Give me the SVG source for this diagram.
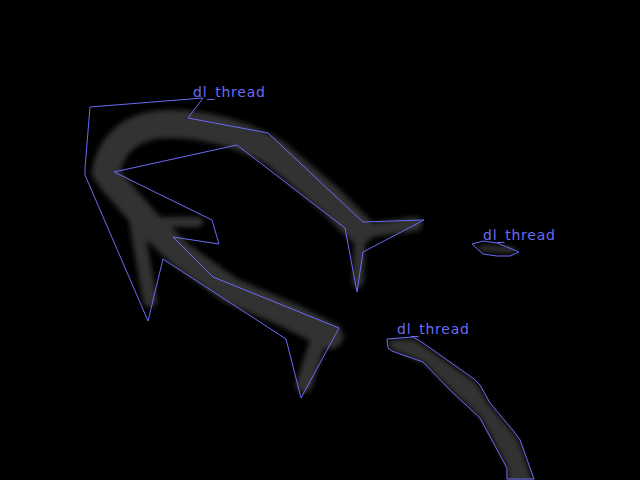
<svg xmlns="http://www.w3.org/2000/svg" width="640" height="480" viewBox="0 0 640 480">
<style>
.outline{fill:none;stroke:#6a6af5;stroke-width:1}
.label{font-family:"DejaVu Sans",sans-serif;font-size:14px;fill:#6a6af5}
.thread{fill:none;stroke:#333;stroke-linecap:round;stroke-linejoin:round}
.fillthread{fill:#303030;stroke:none}
</style>
<defs>
<filter id="blur" x="-20%" y="-20%" width="140%" height="140%"><feGaussianBlur stdDeviation="2.5"/></filter>
</defs>
<rect width="640" height="480" fill="#000"/>
<g id="threads" filter="url(#blur)">
<path class="thread" stroke-width="28" d="M106,172 C112,140 135,124 170,124 C212,124 250,138 275,153 L330,200 L360,230"/>
<path class="thread" stroke-width="14" d="M358,232 L415,224"/>
<path class="thread" stroke-width="11" d="M360,235 L358,282"/>
<path class="thread" stroke-width="26" d="M112,182 L150,225 L180,254 L230,290 L290,316 L330,336"/>
<path class="thread" stroke-width="14" d="M135,215 L150,300"/>
<path class="thread" stroke-width="16" d="M322,328 L304,385"/>
<path class="thread" stroke-width="10" d="M150,222 L198,222"/>
<path class="thread" stroke-width="6" d="M482,248 L512,250"/>
<polygon class="fillthread" points="389,340 413,339 423,345 474,381 479,387 489,404 514,434 519,441 533,482 508,482 508,468 481,418 451,390 424,363 393,350 389,347"/>
</g>
<g id="node1">
<polygon class="outline" points="90,107 203,98 188,118 268,133 363,222 424,220 363,252 357,292 345,228 237,145 114,172 212,220 219,244 173,237 213,277 339,328 301,398 286,339 163,259 148,321 85,175 85,168"/>
<text class="label" x="193" y="97" textLength="72">dl_thread</text>
</g>
<g id="node2">
<polygon class="outline" points="472,244 483,241 497,243 519,252 510,256 497,256 483,254"/>
<text class="label" x="483" y="240" textLength="72">dl_thread</text>
</g>
<g id="node3">
<polygon class="outline" points="387,339 413,337 423,343 474,379 480,385 490,403 515,433 520,440 534,479 507,479 507,468 480,418 450,390 423,362 392,351 388,348"/>
<text class="label" x="397" y="334" textLength="72">dl_thread</text>
</g>
<g id="connectors"/>
</svg>
